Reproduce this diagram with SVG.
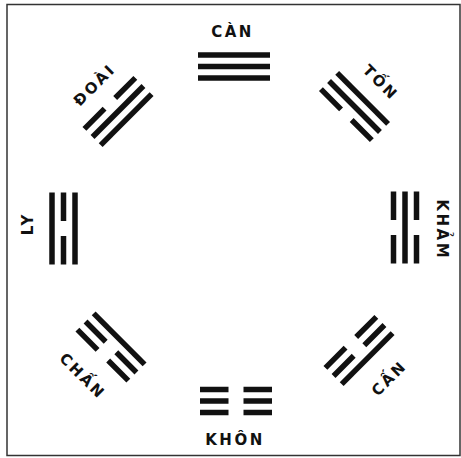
<svg xmlns="http://www.w3.org/2000/svg" width="461" height="458" viewBox="0 0 461 458">
<style>
.ln{stroke:#111;stroke-width:5.5;fill:none}
.lbl{font-family:"DejaVu Sans","Liberation Sans",sans-serif;font-weight:bold;font-size:15px;letter-spacing:2.5px;fill:#111;text-anchor:middle}
.frame{fill:#fff;stroke:#333;stroke-width:1.5}
</style>
<defs>
<line id="yang" class="ln" x1="-36" y1="0" x2="36" y2="0"/>
<path id="yin" class="ln" d="M-36 0H-7.5M7.5 0H36"/>
</defs>
<rect class="frame" x="7" y="4.5" width="453" height="451"/>

<g id="can">
<g transform="translate(234,66.5)">
<use href="#yang" y="-11.5"/><use href="#yang"/><use href="#yang" y="11.5"/>
</g>
<text class="lbl" x="232.5" y="37">CÀN</text>
</g>

<g id="ton">
<g transform="translate(354.5,106.5) rotate(45)">
<use href="#yang" y="-11.5"/><use href="#yang"/><use href="#yin" y="11.5"/>
</g>
<text class="lbl" transform="translate(380,81.5) rotate(45)" x="1.2" y="5.5">TỐN</text>
</g>

<g id="kham">
<g transform="translate(405,227.5) rotate(90)">
<use href="#yin" y="-11.5"/><use href="#yang"/><use href="#yin" y="11.5"/>
</g>
<text class="lbl" transform="translate(442.5,228.5) rotate(90)" x="1.2" y="5.5">KHẢM</text>
</g>

<g id="canmountain">
<g transform="translate(359,350.5) rotate(135)">
<use href="#yang" y="-11.5"/><use href="#yin"/><use href="#yin" y="11.5"/>
</g>
<text class="lbl" transform="translate(388,379) rotate(-45)" x="1.2" y="5.5">CẤN</text>
</g>

<g id="khon">
<g transform="translate(236,401) rotate(180)">
<use href="#yin" y="-11.5"/><use href="#yin"/><use href="#yin" y="11.5"/>
</g>
<text class="lbl" x="235" y="445">KHÔN</text>
</g>

<g id="chan">
<g transform="translate(111,347) rotate(225)">
<use href="#yin" y="-11.5"/><use href="#yin"/><use href="#yang" y="11.5"/>
</g>
<text class="lbl" transform="translate(82,375) rotate(45)" x="1.2" y="5.5">CHẤN</text>
</g>

<g id="ly">
<g transform="translate(63.5,228.5) rotate(270)">
<use href="#yang" y="-11.5"/><use href="#yin"/><use href="#yang" y="11.5"/>
</g>
<text class="lbl" transform="translate(27,225) rotate(-90)" x="1.2" y="5.5">LY</text>
</g>

<g id="doai">
<g transform="translate(118,111.5) rotate(-45)">
<use href="#yin" y="-11.5"/><use href="#yang"/><use href="#yang" y="11.5"/>
</g>
<text class="lbl" transform="translate(93.5,85.5) rotate(-45)" x="1.2" y="5.5">ĐOÀI</text>
</g>
</svg>
